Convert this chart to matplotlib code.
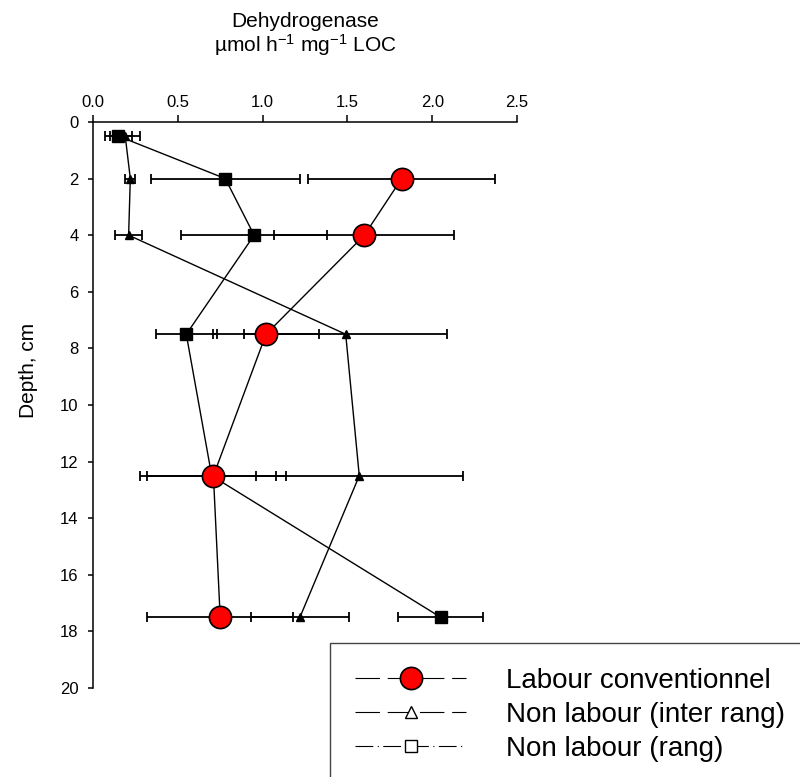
import matplotlib
matplotlib.use("Agg")
import matplotlib.pyplot as plt
from matplotlib.lines import Line2D

plt.rcParams['font.family'] = ['Liberation Sans', 'DejaVu Sans']
plt.rcParams['mathtext.default'] = 'regular'

# profondeurs (cm) et valeurs de deshydrogenase
depth = [0.5, 2, 4, 7.5, 12.5, 17.5]
depth_lc = [2, 4, 7.5, 12.5, 17.5]

lc_x = [1.82, 1.60, 1.02, 0.71, 0.75]          # labour conventionnel
lc_err = [0.55, 0.53, 0.31, 0.43, 0.43]

nl_inter_x = [0.19, 0.22, 0.21, 1.49, 1.57, 1.22]   # non labour (inter rang)
nl_inter_err = [0.09, 0.03, 0.08, 0.60, 0.61, 0.29]

nl_rang_x = [0.15, 0.78, 0.95, 0.55, 0.70, 2.05]    # non labour (rang)
nl_rang_err = [0.08, 0.44, 0.43, 0.18, 0.38, 0.25]

labels = ["Labour conventionnel", "Non labour (inter rang)", "Non labour (rang)"]
xticks = [0.0, 0.5, 1.0, 1.5, 2.0, 2.5]
yticks = list(range(0, 21, 2))

fig = plt.figure(figsize=(8, 7.77), dpi=100)
ax = fig.add_axes([0.11625, 0.1145, 0.53, 0.7285])

eb = dict(fmt='none', ecolor='black', elinewidth=1.3, capsize=3.6, capthick=1.3, zorder=2)
ax.errorbar(nl_rang_x, depth, xerr=nl_rang_err, **eb)
ax.errorbar(nl_inter_x, depth, xerr=nl_inter_err, **eb)
ax.errorbar(lc_x, depth_lc, xerr=lc_err, **eb)

ax.plot(nl_rang_x, depth, color='black', lw=1.0, marker='s', ms=8,
        mfc='black', mec='black', zorder=3)
ax.plot(nl_inter_x, depth, color='black', lw=1.0, marker='^', ms=6,
        mfc='black', mec='black', zorder=3)
ax.plot(lc_x, depth_lc, color='black', lw=1.0, marker='o', ms=16,
        mfc='red', mec='black', mew=1.2, zorder=4)

ax.set_xlim(0, 2.5)
ax.set_ylim(20, 0)
ax.set_xticks(xticks)
ax.set_xticklabels([f"{v:.1f}" for v in xticks])
ax.set_yticks(yticks)
ax.xaxis.tick_top()
ax.spines['right'].set_visible(False)
ax.spines['bottom'].set_visible(False)
for s in ('top', 'left'):
    ax.spines[s].set_linewidth(1.1)
ax.tick_params(axis='x', direction='out', length=5, width=1.1, pad=3.5, labelsize=12)
ax.tick_params(axis='y', direction='out', length=3.5, width=1.1, pad=7, labelsize=12)

fig.text(305 / 800, 1 - 12 / 777, "Dehydrogenase\nµmol h$^{-1}$ mg$^{-1}$ LOC",
         ha='center', va='top', fontsize=15, linespacing=1.05)
fig.text(28 / 800, 1 - 370 / 777, "Depth, cm", rotation=90,
         ha='center', va='center', fontsize=15)

# legende avec symboles vides
handles = [
    Line2D([], [], color='black', lw=0.8, ls=(0, (22, 7)), marker='o', ms=16,
           mfc='red', mec='black', mew=1.2),
    Line2D([], [], color='black', lw=0.8, ls=(0, (22, 7)), marker='^', ms=9,
           mfc='white', mec='black'),
    Line2D([], [], color='black', lw=0.8, ls=(0, (16, 4, 1, 4)), marker='s', ms=8,
           mfc='white', mec='black'),
]
leg = fig.legend(handles, labels, loc='upper left',
                 bbox_to_anchor=(330 / 800, 1 - 643 / 777),
                 fontsize=20, handlelength=4.0, handletextpad=1.45,
                 labelspacing=0.28, borderpad=0.9, borderaxespad=0,
                 fancybox=False, framealpha=1)
leg.get_frame().set_edgecolor('#444444')
leg.get_frame().set_linewidth(1.0)

fig.savefig("out.png", dpi=100)
